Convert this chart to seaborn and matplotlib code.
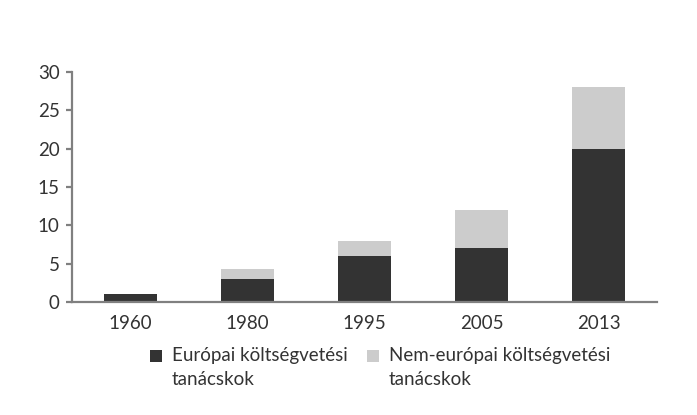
import numpy as np
import pandas as pd
import matplotlib
matplotlib.use("Agg")
import matplotlib.pyplot as plt
import seaborn as sns
from matplotlib.patches import Rectangle

# data
years = ["1960", "1980", "1995", "2005", "2013"]
european = [1, 3, 6, 7, 20]
non_european = [0, 1.3, 2, 5, 8]

labels = ["Európai költségvetési\ntanácskok", "Nem-európai költségvetési\ntanácskok"]
dark = "#333333"
light = "#cccccc"
axis_grey = "#808080"


def main():
    sns.set_style("white")
    plt.rcParams["font.family"] = ["Lato", "DejaVu Sans"]

    df = pd.DataFrame({
        "year": years,
        "european": european,
        "total": np.array(european) + np.array(non_european),
    })

    fig = plt.figure(figsize=(6.97, 4.15), dpi=100)
    ax = fig.add_axes([0.1033, 0.2723, 0.8393, 0.5542])

    # stacked bars: total in light grey, european part drawn over it
    sns.barplot(data=df, x="year", y="total", color=light, width=0.46,
                saturation=1, linewidth=0, ax=ax)
    sns.barplot(data=df, x="year", y="european", color=dark, width=0.46,
                saturation=1, linewidth=0, ax=ax)

    ax.set_xlim(-0.5, 4.5)
    ax.set_ylim(0, 30)
    ax.set_yticks([0, 5, 10, 15, 20, 25, 30])
    ax.set_xlabel("")
    ax.set_ylabel("")

    for side in ["top", "right"]:
        ax.spines[side].set_visible(False)
    for side in ["left", "bottom"]:
        ax.spines[side].set_color(axis_grey)
        ax.spines[side].set_linewidth(1.6)

    ax.tick_params(axis="y", left=True, length=4, width=1.6, color=axis_grey,
                   labelsize=13.5, labelcolor="#333333", pad=5)
    ax.tick_params(axis="x", bottom=False, labelsize=13.5,
                   labelcolor="#333333", pad=6)

    # legend drawn by hand: square next to the first line of each label
    W, H = 697, 415
    for x0, label, col in zip([150, 367], labels, [dark, light]):
        fig.patches.append(Rectangle((x0 / W, 1 - 362 / H), 12 / W, 12 / H,
                                     transform=fig.transFigure,
                                     facecolor=col, edgecolor="none"))
        fig.text((x0 + 22) / W, 1 - 347 / H, label, ha="left", va="top",
                 fontsize=13.5, color="#333333", linespacing=1.5)

    fig.savefig("out.png", dpi=100)
    plt.close(fig)


if __name__ == "__main__":
    main()
